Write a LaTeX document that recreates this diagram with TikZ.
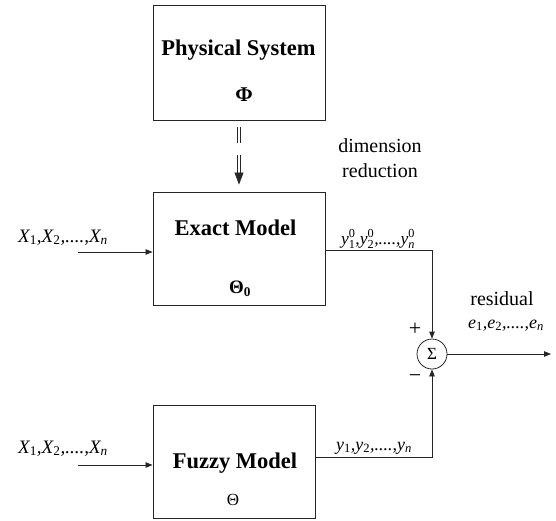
\documentclass[tikz,border=0pt]{standalone}
\usepackage{amsmath}
\usepackage{fontspec}
\setmainfont{Liberation Serif}
\usetikzlibrary{arrows.meta}
\newcommand\lsubU[1]{$_{\text{\upshape #1}}$}
\newcommand\lsubI[1]{$_{\text{\itshape #1}}$}
\newcommand\lsubsupU[2]{$^{\text{\upshape #2}}_{\text{\upshape #1}}$}
\newcommand\lsubsupI[2]{$^{\text{\upshape #2}}_{\text{\itshape #1}}$}
\tikzset{
  blk/.style={draw=black!85, line width=0.9pt, inner sep=0pt},
  ttl/.style={font=\fontsize{22.5}{26}\selectfont\bfseries, inner sep=0pt},
  lbl/.style={font=\fontsize{19}{22}\selectfont\itshape, inner sep=0pt, anchor=base},
  plain/.style={font=\fontsize{20}{23}\selectfont, inner sep=0pt, anchor=base},
  arr/.style={draw=black!85, line width=0.8pt, -{Triangle[length=7pt,width=5.5pt]}},
}
\begin{document}
\begin{tikzpicture}[x=1pt,y=-1pt]
\useasboundingbox (0,0) rectangle (556,520);
% boxes
\node[blk, minimum width=172pt, minimum height=115pt] (phys) at (239,62.5) {};
\node[blk, minimum width=172pt, minimum height=113pt] (exact) at (239,248.5) {};
\node[blk, minimum width=162pt, minimum height=113pt] (fuzzy) at (234,461.5) {};
% box texts
\node[ttl] (tphys) at (238.5,50) {Physical System};
\node[font=\fontsize{21}{24}\selectfont\bfseries, inner sep=0pt] (phi) at (244,95) {Φ};
\node[ttl] (texact) at (235.5,228) {Exact Model};
\node[font=\fontsize{19}{22}\selectfont\bfseries, inner sep=0pt] (th0) at (240,289) {Θ\lsubU{\bfseries 0}};
\node[ttl] (tfuzzy) at (235,463) {Fuzzy Model};
\node[font=\fontsize{17}{20}\selectfont, inner sep=0pt] (th) at (233,500) {Θ};
% dimension reduction connector
\draw[draw=black!85, double, double distance=2pt, line width=0.6pt,
      dash pattern=on 0pt off 7pt on 16pt off 12pt on 18pt off 300pt]
  (phys.south) -- (exact.north);
\coordinate (tipbase) at ([yshift=19pt]exact.north);
\draw[draw=black!85, fill=black!85, line width=0.6pt, shorten >=7pt,
      -{Triangle[length=12pt,width=9pt]}] (tipbase) -- (exact.north);
\node[plain] (dim) at (380,152) {dimension};
\node[plain] (red) at (380,177) {reduction};
% inputs
\coordinate (in1) at (78,252);
\coordinate (in2) at (78,465);
\draw[arr] (in1) -- (exact.west |- in1);
\draw[arr] (in2) -- (fuzzy.west |- in2);
\node[lbl] (x1) at (63,242) {X\lsubU{1},X\lsubU{2},....,X\lsubI{n}};
\node[lbl] (x2) at (63,453) {X\lsubU{1},X\lsubU{2},....,X\lsubI{n}};
% summing junction
\node[draw=black!85, line width=0.8pt, circle, minimum size=30pt, inner sep=0pt,
      font=\fontsize{17}{20}\selectfont] (sum) at (432,354) {Σ};
\coordinate (c1) at (432,250);
\coordinate (c2) at (432,457);
\draw[arr] (exact.east |- c1) -- (c1) -- (sum.north);
\draw[arr] (fuzzy.east |- c2) -- (c2) -- (sum.south);
\coordinate (out) at (551,354);
\draw[arr] (sum.east) -- (out);
\node[font=\fontsize{22}{24}\selectfont, inner sep=0pt] (plus) at (415,329) {+};
\node[font=\fontsize{22}{24}\selectfont, inner sep=0pt] (minus) at (415,379) {−};
% output labels
\node[lbl, font=\fontsize{17.5}{21}\selectfont\itshape] (ylab0) at (378,244) {y\lsubsupU{1}{0},y\lsubsupU{2}{0},....,y\lsubsupI{n}{0}};
\node[lbl, font=\fontsize{18}{21}\selectfont\itshape] (ylab) at (374,450) {y\lsubU{1},y\lsubU{2},....,y\lsubI{n}};
\node[plain] (res) at (502,305) {residual};
\node[lbl, font=\fontsize{18}{21}\selectfont\itshape] (elab) at (506,328) {e\lsubU{1},e\lsubU{2},....,e\lsubI{n}};
\end{tikzpicture}
\end{document}
